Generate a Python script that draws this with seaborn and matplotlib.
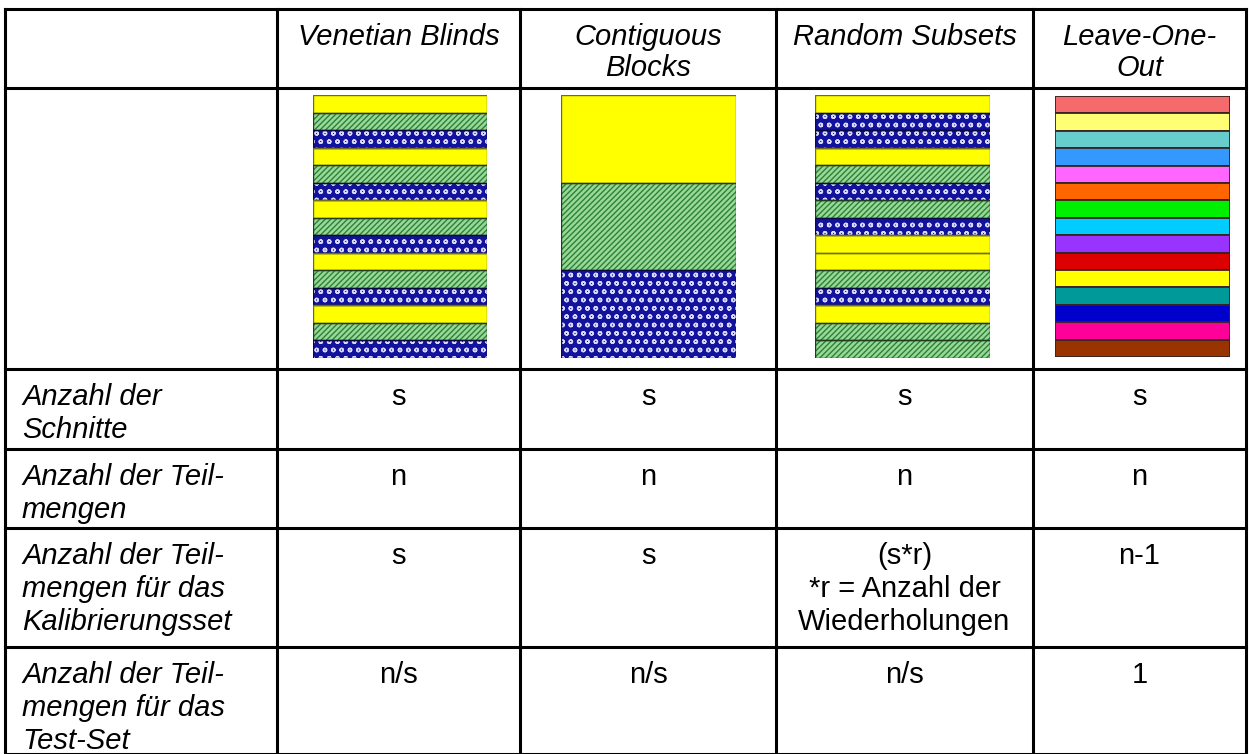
import matplotlib
matplotlib.use('Agg')
import matplotlib.pyplot as plt
import seaborn as sns
from matplotlib.patches import Rectangle

# ==========================================
# 0. Stil und Schrift
# ==========================================
sns.set_theme(style='white')
plt.rcParams['font.family'] = ['Liberation Sans', 'DejaVu Sans']
plt.rcParams['text.color'] = 'black'
plt.rcParams['hatch.linewidth'] = 1.0

# ==========================================
# 1. Daten der Tabelle
# ==========================================
methods = ['Venetian Blinds', 'Contiguous\nBlocks', 'Random Subsets', 'Leave-One-\nOut']
row_labels = [
    'Anzahl der\nSchnitte',
    'Anzahl der Teil-\nmengen',
    'Anzahl der Teil-\nmengen für das\nKalibrierungsset',
    'Anzahl der Teil-\nmengen für das\nTest-Set',
]
cell_values = [
    ['s', 's', 's', 's'],
    ['n', 'n', 'n', 'n'],
    ['s', 's', '(s*r)\n*r = Anzahl der\nWiederholungen', 'n-1'],
    ['n/s', 'n/s', 'n/s', '1'],
]

# Y = gelb, G = grün schraffiert, B = blau kariert
venetian_stripes = ['Y', 'G', 'B', 'Y', 'G', 'B', 'Y', 'G', 'B', 'Y', 'G', 'B', 'Y', 'G', 'B']
contiguous_stripes = ['Y', 'G', 'B']
random_stripes = ['Y', 'B', 'B', 'Y', 'G', 'B', 'G', 'B', 'Y', 'Y', 'G', 'B', 'Y', 'G', 'G']
loo_colors = ['#f56a6a', '#ffff73', '#66cccc', '#3399ff', '#ff66ff', '#ff6600', '#00ee00',
              '#00ccff', '#9933ff', '#dd0000', '#ffff00', '#009999', '#0000cc', '#ff0099', '#993300']

stripe_style = {
    'Y': dict(face='#ffff00', hatch=None, hcolor='#ffff00', edge='#6e6e1e'),
    'G': dict(face='#9ad89a', hatch='//////', hcolor='#2a8236', edge='#203c20'),
    'B': dict(face='#12129c', hatch='oo', hcolor='#d8d8ff', edge='#0a0a40'),
}

# ==========================================
# 2. Raster der Tabelle (Pixel)
# ==========================================
W, H = 1249, 754
col_edges = [5, 277, 520, 776, 1033, 1246]
row_edges = [9, 88, 369, 449, 528, 647, 754]
img_boxes = [(313, 95, 487, 358), (561, 95, 736, 358), (815, 95, 990, 358), (1055, 96, 1230, 357)]

fig = plt.figure(figsize=(W / 100, H / 100), dpi=100)
ax = fig.add_axes([0, 0, 1, 1])
ax.set_xlim(0, W)
ax.set_ylim(H, 0)
ax.axis('off')

for y in row_edges:
    ax.plot([col_edges[0], col_edges[-1]], [y, y], color='black', lw=2.2, solid_capstyle='projecting')
for x in col_edges:
    ax.plot([x, x], [row_edges[0], row_edges[-1]], color='black', lw=2.2, solid_capstyle='projecting')

fs = 21
pad = 14
ls = 1.22
for j, m in enumerate(methods):
    cx = (col_edges[j + 1] + col_edges[j + 2]) / 2
    ax.text(cx, row_edges[0] + pad, m, ha='center', va='top', fontsize=fs, style='italic',
            linespacing=1.15, multialignment='center', color='black')

for i, lab in enumerate(row_labels):
    ax.text(22, row_edges[i + 2] + pad, lab, ha='left', va='top', fontsize=fs, style='italic',
            linespacing=ls, color='black')
    for j, val in enumerate(cell_values[i]):
        cx = (col_edges[j + 1] + col_edges[j + 2]) / 2
        ax.text(cx, row_edges[i + 2] + pad, val, ha='center', va='top', fontsize=fs,
                linespacing=ls, multialignment='center', color='black')


# ==========================================
# 3. Streifenbilder
# ==========================================
def stripe_axes(box):
    x0, y0, x1, y1 = box
    return fig.add_axes([x0 / W, 1 - y1 / H, (x1 - x0) / W, (y1 - y0) / H])


def draw_pattern(box, stripes):
    iax = stripe_axes(box)
    n = len(stripes)
    sns.barplot(x=[1] * n, y=[str(k) for k in range(n)], hue=[str(k) for k in range(n)],
                palette=[stripe_style[s]['face'] for s in stripes], orient='h', width=1,
                saturation=1, errorbar=None, legend=False, ax=iax)
    for p, s in zip(iax.patches, stripes):
        st = stripe_style[s]
        p.set_edgecolor(st['hcolor'])
        p.set_linewidth(0)
        if st['hatch']:
            p.set_hatch(st['hatch'])
        iax.add_patch(Rectangle(p.get_xy(), p.get_width(), p.get_height(), fill=False,
                                edgecolor=st['edge'], lw=1.0))
    iax.set_xlim(0, 1)
    iax.axis('off')


def draw_colors(box, colors):
    iax = stripe_axes(box)
    n = len(colors)
    sns.barplot(x=[1] * n, y=[str(k) for k in range(n)], hue=[str(k) for k in range(n)],
                palette=colors, orient='h', width=1, saturation=1, errorbar=None, legend=False,
                edgecolor='#3a2222', linewidth=1.3, ax=iax)
    iax.set_xlim(0, 1)
    iax.axis('off')


draw_pattern(img_boxes[0], venetian_stripes)
draw_pattern(img_boxes[1], contiguous_stripes)
draw_pattern(img_boxes[2], random_stripes)
draw_colors(img_boxes[3], loo_colors)

fig.savefig('out.png', dpi=100)
